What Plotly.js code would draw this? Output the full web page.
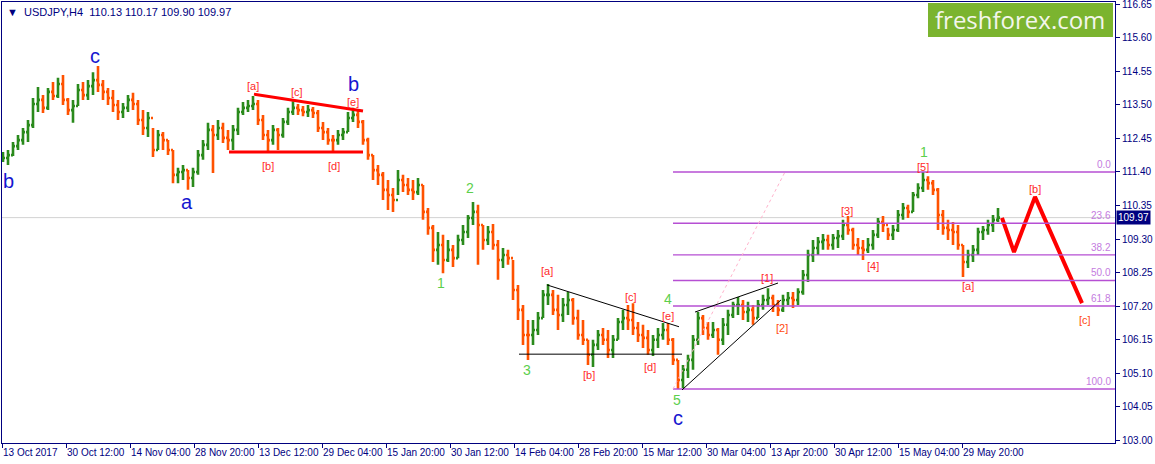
<!DOCTYPE html>
<html><head><meta charset="utf-8">
<script src="https://cdn.plot.ly/plotly-3.0.1.min.js"></script>
<style>html,body{margin:0;padding:0;background:#fff}#chart{width:1155px;height:464px}</style>
</head><body><div id="chart"></div>
<script>
// ---- data (USDJPY, H4, aggregated bars) ----
const firstOpen = 111.80;
const highs = [112.03,112.09,112.34,112.56,112.78,113.03,113.72,114.06,113.81,114.03,
114.22,114.35,114.44,113.72,113.66,114.16,114.22,114.28,114.53,114.72,
114.28,114.03,113.97,113.66,113.56,113.81,113.88,113.66,113.34,113.28,
112.78,112.72,112.65,112.40,112.09,111.53,111.62,111.46,111.53,112.09,
112.40,112.94,112.87,113.03,112.94,112.72,112.87,113.41,113.59,113.66,
113.78,113.66,113.19,112.72,112.87,112.78,113.09,113.41,113.62,113.53,
113.47,113.50,113.44,113.34,112.97,112.78,112.56,112.72,112.78,113.28,
113.41,113.34,113.03,112.47,111.93,111.62,111.40,111.15,110.90,111.46,
111.31,111.21,111.15,111.21,110.99,110.27,109.74,109.52,109.43,109.27,
109.11,109.43,109.74,110.05,110.46,110.37,109.74,109.71,109.77,109.27,
109.02,108.96,108.64,107.86,107.23,106.76,106.76,107.01,107.70,107.89,
107.70,107.55,107.45,107.64,107.45,107.08,106.76,106.14,106.14,106.45,
106.51,106.45,106.29,106.82,107.08,107.23,107.29,106.70,106.61,106.45,
106.29,106.51,106.67,106.67,106.20,105.51,105.35,105.67,106.29,107.01,
106.92,106.70,106.70,106.51,106.82,107.08,107.33,107.48,107.39,107.33,
107.23,107.39,107.55,107.76,107.55,107.39,107.55,107.64,107.64,107.76,
108.33,108.96,109.27,109.36,109.46,109.43,109.46,109.58,109.90,110.02,
109.65,109.33,109.27,109.33,109.58,109.96,110.02,109.65,109.74,110.21,
110.43,110.37,110.77,111.05,111.40,111.27,111.15,110.90,110.21,109.90,
109.83,109.74,109.11,108.96,109.11,109.65,109.71,109.90,110.05,110.27];
const lows = [111.71,111.62,111.90,112.09,112.25,112.34,112.78,113.28,113.25,113.34,
113.66,113.72,113.50,113.19,112.94,113.47,113.66,113.66,113.81,113.91,
113.66,113.50,113.28,113.03,113.09,113.28,113.34,112.87,112.56,112.50,
111.87,112.09,112.09,111.93,111.05,111.05,111.15,110.84,110.93,111.31,
111.78,112.09,111.37,112.40,112.31,112.09,112.09,112.56,113.19,113.28,
113.34,112.87,112.40,112.03,112.25,112.09,112.47,112.87,113.19,113.19,
113.15,113.12,113.09,112.65,112.40,112.25,112.03,112.25,112.40,112.65,
112.97,112.78,112.25,111.78,111.15,110.99,110.52,110.21,110.15,110.68,
110.77,110.68,110.52,110.68,109.90,109.43,108.58,108.49,108.23,108.58,
108.42,108.70,109.11,109.33,109.74,108.49,108.96,109.11,108.96,108.02,
108.39,108.49,107.39,106.76,105.98,105.51,105.98,106.29,106.82,107.23,
106.92,106.45,106.70,106.92,106.61,106.14,105.98,105.35,105.29,105.82,
105.98,105.57,105.57,106.14,106.45,106.45,106.29,106.07,105.88,105.67,
105.63,105.88,106.14,105.98,105.35,104.60,104.63,104.94,105.20,105.98,
106.29,106.14,106.20,105.67,105.98,106.29,106.82,106.92,106.76,106.70,
106.61,106.82,107.08,107.23,107.01,106.89,107.01,107.23,107.14,107.23,
107.55,107.95,108.58,108.80,108.96,108.96,108.96,109.02,109.27,109.43,
108.96,108.80,108.64,108.86,108.96,109.33,109.52,109.27,109.27,109.52,
109.90,109.96,110.15,110.58,110.77,110.84,110.68,109.58,109.43,109.27,
109.11,108.96,108.11,108.39,108.58,108.80,109.27,109.43,109.52,109.83];
const closes = [111.84,111.93,112.21,112.40,112.65,112.87,113.53,113.66,113.41,113.91,
113.78,114.16,113.66,113.34,113.47,113.97,113.81,114.09,114.28,114.13,
113.91,113.72,113.50,113.28,113.41,113.66,113.53,113.03,112.78,113.09,
112.09,112.56,112.40,112.09,111.31,111.40,111.46,111.21,111.40,111.93,
112.25,112.72,112.56,112.78,112.47,112.40,112.72,113.28,113.41,113.47,
113.53,113.03,112.56,112.40,112.72,112.56,112.97,113.28,113.41,113.34,
113.28,113.34,113.25,112.78,112.65,112.40,112.40,112.56,112.65,113.09,
113.19,112.97,112.40,111.93,111.46,111.31,110.84,110.68,110.52,111.15,
110.99,110.84,110.77,110.99,110.15,109.65,108.96,109.11,108.64,108.96,
108.70,109.27,109.52,109.96,110.15,109.74,109.27,109.52,109.11,108.64,
108.80,108.70,107.70,107.08,106.29,106.29,106.45,106.82,107.55,107.55,
107.08,106.92,107.23,107.39,106.82,106.29,106.14,105.67,105.98,106.29,
106.14,105.82,106.14,106.70,106.82,106.76,106.51,106.29,106.20,105.82,
106.14,106.29,106.45,106.14,105.51,104.88,105.20,105.51,106.14,106.82,
106.51,106.29,106.45,106.14,106.61,106.92,107.23,107.23,107.01,107.08,
106.82,107.23,107.39,107.45,107.23,107.08,107.39,107.45,107.39,107.64,
108.17,108.80,109.02,109.21,109.27,109.11,109.33,109.39,109.74,109.58,
109.11,109.02,108.96,109.11,109.43,109.83,109.74,109.43,109.58,110.05,
110.27,110.15,110.68,110.90,111.15,111.05,110.84,110.05,109.65,109.58,
109.52,109.11,108.58,108.80,108.96,109.52,109.58,109.74,109.90,109.97];

const xLabels = ["13 Oct 2017","30 Oct 12:00","14 Nov 04:00","28 Nov 20:00","13 Dec 12:00","29 Dec 04:00","15 Jan 20:00","30 Jan 12:00","14 Feb 04:00","28 Feb 20:00","15 Mar 12:00","30 Mar 04:00","13 Apr 20:00","30 Apr 12:00","15 May 04:00","29 May 20:00"];
const yTicks = [103.00,104.05,105.10,106.15,107.20,108.25,109.30,110.35,111.40,112.45,113.50,114.55,115.60,116.65];
const lastPrice = 109.97;
const header = ["USDJPY,H4", "110.13", "110.17", "109.90", "109.97"];

// Fibonacci retracement
const fibHigh = 111.40, fibLow = 104.60, fibStartX = 671;
const fibLevels = [0, 23.6, 38.2, 50.0, 61.8, 100.0];
const fibRayX = [671, 783], fibRayY = [104.60, 111.40];

// trend lines (x in bar units, y in price)
const redTriUpX = [252, 361], redTriUpY = [113.84, 113.31];
const redTriLoX = [227, 361], redTriLoY = [112.03, 112.03];
const blkTriUpX = [545, 677], blkTriUpY = [107.86, 106.55];
const blkTriLoX = [517, 680], blkTriLoY = [105.69, 105.69];
const wedgeUpX = [693, 776], wedgeUpY = [107.01, 107.92];
const wedgeLoX = [680, 779], wedgeLoY = [104.57, 107.39];
const projX = [1000, 1012, 1033, 1080], projY = [109.96, 108.89, 110.62, 107.29];

// wave labels
const blueLabels = [["b",6,111.12],["c",93,115.03],["a",185,110.46],["b",351,114.15],["c",676,103.69]];
const redLabels = [["[a]",251,114.09],["[c]",295,113.91],["[e]",351,113.60],["[b]",266,111.59],["[d]",332,111.59],
 ["[a]",545,108.30],["[c]",629,107.48],["[e]",666,106.89],["[b]",587,105.04],["[d]",648,105.29],
 ["[1]",765,108.08],["[3]",845,110.18],["[4]",871,108.45],["[5]",921,111.56],["[a]",966,107.83],["[b]",1033,110.87]];
const orangeLabels = [["[2]",780,106.51],["[c]",1083,106.76]];
const greenLabels = [["1",439,107.92],["2",468,110.90],["3",525,105.20],["4",666,107.42],["5",675,104.25],["1",922,112.03]];

// ---- build ----
const NAVY = "#00007f";
const FONT = "Liberation Sans, Arial, sans-serif";
const opens = [firstOpen].concat(closes.slice(0, -1));
const xs = closes.map((_, i) => 1 + 5 * i);

const traces = [{
  type: "ohlc", x: xs, open: opens, high: highs, low: lows, close: closes,
  increasing: {line: {color: "#2a8a1c", width: 2.6}},
  decreasing: {line: {color: "#ff5200", width: 2.6}},
  tickwidth: 0.4, hoverinfo: "skip"
}, {
  type: "scatter", mode: "lines", x: projX, y: projY,
  line: {color: "#ff0000", width: 4}, hoverinfo: "skip"
}];

const shapes = [];
function seg(xa, ya, color, width, dash) {
  shapes.push({type: "line", xref: "x", yref: "y", x0: xa[0], x1: xa[1], y0: ya[0], y1: ya[1],
    line: {color: color, width: width, dash: dash || "solid"}});
}
shapes.push({type: "line", xref: "x", yref: "y", x0: 0, x1: 1113, y0: lastPrice, y1: lastPrice,
  line: {color: "#d2d2d2", width: 1}, layer: "below"});
const annotations = [];
fibLevels.forEach(l => {
  const p = fibHigh - (fibHigh - fibLow) * l / 100;
  seg([fibStartX, 1113], [p, p], "#b64fd3", 1.4);
  annotations.push({xref: "x", yref: "y", x: 1111, y: p, xanchor: "right", yanchor: "bottom", yshift: 0,
    text: l.toFixed(1), showarrow: false, font: {family: FONT, size: 10, color: "#c47ce0"}});
});
seg(fibRayX, fibRayY, "#ffb3cc", 1, "dot");
seg(redTriUpX, redTriUpY, "#ff0000", 3);
seg(redTriLoX, redTriLoY, "#ff0000", 3);
seg(blkTriUpX, blkTriUpY, "#000000", 1);
seg(blkTriLoX, blkTriLoY, "#000000", 1);
seg(wedgeUpX, wedgeUpY, "#000000", 1);
seg(wedgeLoX, wedgeLoY, "#000000", 1);

// logo
shapes.push({type: "rect", xref: "x", yref: "y", x0: 926, x1: 1111, y0: 115.63, y1: 116.70,
  fillcolor: "#7bb42f", line: {width: 0}, layer: "above"});
annotations.push({xref: "x", yref: "y", x: 1018, y: 116.17, text: "freshforex.com", showarrow: false,
  font: {family: "Open Sans, sans-serif", size: 24, color: "#f3f6ec"}});

function addLabels(list, color, size) {
  list.forEach(([t, x, y]) => annotations.push({xref: "x", yref: "y", x: x, y: y, text: t, showarrow: false,
    font: {family: FONT, size: size, color: color}}));
}
addLabels(blueLabels, "#1616d0", 20);
addLabels(redLabels, "#ff2a2a", 11);
addLabels(orangeLabels, "#ff4a10", 11);
addLabels(greenLabels, "#5ccf4c", 14);

// header + price tag
annotations.push({xref: "paper", yref: "paper", x: 0, y: 1, xanchor: "left", yanchor: "top", xshift: 3, yshift: -2,
  text: "\u25BC\u00a0 " + header[0] + "\u00a0 " + header.slice(1).join(" "), showarrow: false,
  font: {family: FONT, size: 11, color: NAVY}});
annotations.push({xref: "paper", yref: "y", x: 1, y: lastPrice, xanchor: "left", xshift: 1,
  text: lastPrice.toFixed(2), showarrow: false, bgcolor: "#000080", borderpad: 1,
  font: {family: FONT, size: 10, color: "#ffffff"}});

const layout = {
  width: 1155, height: 464, margin: {l: 2, r: 40, t: 2, b: 21},
  paper_bgcolor: "#ffffff", plot_bgcolor: "#ffffff", showlegend: false, hovermode: false,
  xaxis: {range: [0, 1113], tickvals: xLabels.map((_, k) => 64 * k), ticktext: xLabels, tickangle: 0,
    ticks: "outside", ticklen: 4, tickcolor: NAVY, ticklabelposition: "outside right", ticklabeloverflow: "allow",
    tickfont: {family: FONT, size: 10, color: NAVY}, showgrid: false, zeroline: false,
    showline: true, mirror: true, linecolor: NAVY, linewidth: 1, rangeslider: {visible: false}, fixedrange: true},
  yaxis: {range: [102.906, 116.728], side: "right", tickvals: yTicks, ticktext: yTicks.map(v => v.toFixed(2)),
    ticks: "outside", ticklen: 4, tickcolor: NAVY, tickfont: {family: FONT, size: 10, color: NAVY}, ticklabeloverflow: "allow",
    showgrid: false, zeroline: false, showline: true, mirror: true, linecolor: NAVY, linewidth: 1, fixedrange: true},
  shapes: shapes, annotations: annotations
};
Plotly.newPlot("chart", traces, layout, {displayModeBar: false, staticPlot: true});
</script></body></html>
